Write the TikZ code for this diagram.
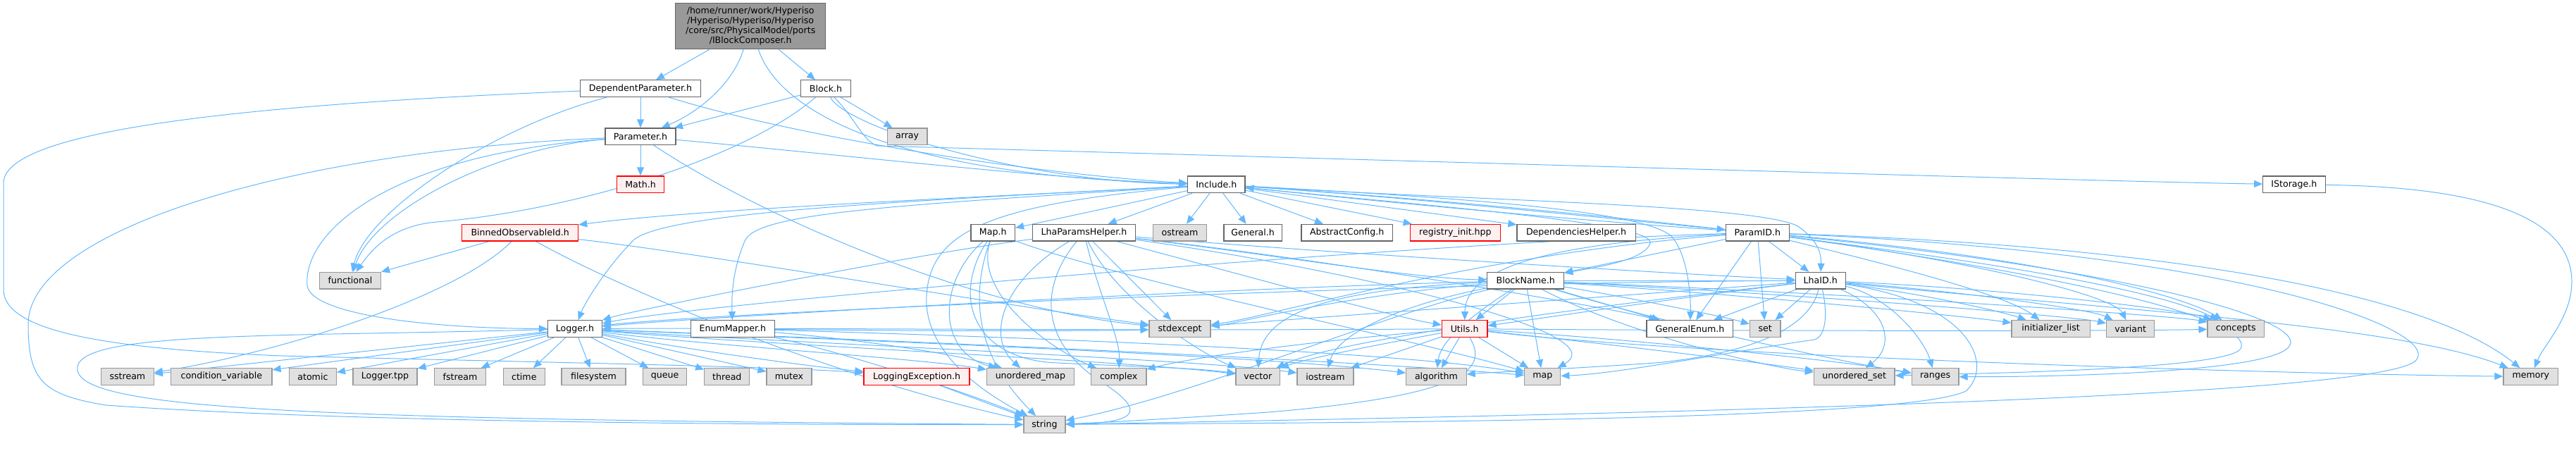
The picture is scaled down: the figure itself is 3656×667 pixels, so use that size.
\documentclass[tikz,border=0pt]{standalone}
\usepackage{fontspec}
\setmainfont{DejaVu Sans}
\usetikzlibrary{arrows.meta}
\definecolor{eb}{HTML}{63B8FF}
\definecolor{gb}{HTML}{999999}
\definecolor{gf}{HTML}{E0E0E0}
\definecolor{wb}{HTML}{666666}
\definecolor{rf}{HTML}{FFF0F0}
\pgfdeclarelayer{edges}
\pgfsetlayers{edges,main}
\newcommand{\mynode}[6]{\node[#5,minimum width=#4pt] (#1) at (#2,#3) {#6};}
\begin{document}
\begin{tikzpicture}[x=0.5pt,y=-0.5pt,
  box/.style={draw=wb,fill=white,line width=0.6pt,inner sep=0pt,minimum height=11.85pt,font=\fontsize{6.3}{6.9}\selectfont},
  sys/.style={box,draw=gb,fill=gf},
  redbox/.style={box,draw=red,fill=rf},
  edg/.style={draw=eb,line width=0.5pt,-{Triangle[length=6pt,width=5pt]}}]
\useasboundingbox (0,0) rectangle (3656,667);
% rows: 37.2 125.7 193.8 261.8 330.2 398.2 466.6 534.6 602.6
\node[box,fill=gb,draw=wb,minimum width=106.6pt,minimum height=32.5pt,align=center] (main) at (1065.2,37.2)
 {/home/runner/work/Hyperiso\\/Hyperiso/Hyperiso/Hyperiso\\/core/src/PhysicalModel/ports\\/IBlockComposer.h};
\mynode{dp}{909}{125.7}{85.2}{box}{DependentParameter.h}
\mynode{blk}{1172}{125.7}{35.4}{box}{Block.h}
\mynode{par}{909}{193.8}{50}{box}{Parameter.h}
\mynode{arr}{1287.6}{193.8}{28.3}{sys}{array}
\mynode{math}{909}{261.8}{33.4}{redbox}{Math.h}
\mynode{inc}{1726.3}{261.8}{40.7}{box}{Include.h}
\mynode{ist}{3255.9}{261.8}{44.2}{box}{IStorage.h}
\mynode{bin}{738.2}{330.2}{82.4}{redbox}{BinnedObservableId.h}
\mynode{mapH}{1409.2}{330.2}{31.3}{box}{Map.h}
\mynode{lph}{1538.5}{330.2}{73.2}{box}{LhaParamsHelper.h}
\mynode{ost}{1674.5}{330.2}{38}{sys}{ostream}
\mynode{gen}{1778.1}{330.2}{41.1}{box}{General.h}
\mynode{abs}{1911.7}{330.2}{64.7}{box}{AbstractConfig.h}
\mynode{reg}{2065.4}{330.2}{64}{redbox}{registry\_init.hpp}
\mynode{dep}{2237.1}{330.2}{84.1}{box}{DependenciesHelper.h}
\mynode{pid}{2494.3}{330.2}{44.9}{box}{ParamID.h}
\mynode{fun}{497}{398.2}{43.5}{sys}{functional}
\mynode{bn}{2165.2}{398.2}{54.4}{box}{BlockName.h}
\mynode{lid}{2583.7}{398.2}{35.4}{box}{LhaID.h}
\mynode{log}{815.9}{466.6}{38.4}{box}{Logger.h}
\mynode{enm}{1039.9}{466.6}{59.5}{box}{EnumMapper.h}
\mynode{stx}{1674.5}{466.6}{43.5}{sys}{stdexcept}
\mynode{utl}{2078.6}{466.6}{32.3}{redbox}{Utils.h}
\mynode{ge}{2398.4}{466.6}{61.4}{box}{GeneralEnum.h}
\mynode{set}{2505.2}{466.6}{21.8}{sys}{set}
\mynode{il}{2910.6}{466.6}{55.6}{sys}{initializer\_list}
\mynode{var}{3023.7}{466.6}{34}{sys}{variant}
\mynode{con}{3173.2}{466.6}{40.2}{sys}{concepts}
\mynode{ss}{180.9}{534.6}{37.4}{sys}{sstream}
\mynode{cv}{314.4}{534.6}{71.6}{sys}{condition\_variable}
\mynode{atm}{443.9}{534.6}{33.5}{sys}{atomic}
\mynode{ltpp}{546.5}{534.6}{45.5}{sys}{Logger.tpp}
\mynode{fst}{653}{534.6}{36.8}{sys}{fstream}
\mynode{ct}{743.8}{534.6}{29.5}{sys}{ctime}
\mynode{fs}{842.5}{534.6}{45.5}{sys}{filesystem}
\mynode{que}{943.6}{534.6}{31.2}{sys}{queue}
\mynode{thr}{1031.8}{534.6}{32}{sys}{thread}
\mynode{mtx}{1120}{534.6}{32}{sys}{mutex}
\mynode{lex}{1301}{534.6}{75}{redbox}{LoggingException.h}
\mynode{um}{1462.4}{534.6}{61.9}{sys}{unordered\_map}
\mynode{cpx}{1587.7}{534.6}{39.3}{sys}{complex}
\mynode{vec}{1785.3}{534.6}{31.3}{sys}{vector}
\mynode{ios}{1881}{534.6}{40}{sys}{iostream}
\mynode{alg}{2038.4}{534.6}{42.7}{sys}{algorithm}
\mynode{mp}{2189.3}{534.6}{25.5}{sys}{map}
\mynode{us}{2631.7}{534.6}{57.3}{sys}{unordered\_set}
\mynode{rng}{2746.6}{534.6}{33.4}{sys}{ranges}
\mynode{mem}{3591.8}{534.6}{38.8}{sys}{memory}
\mynode{str}{1482.5}{602.6}{29.5}{sys}{string}

\begin{pgfonlayer}{edges}
% main
\draw[edg] (main) -- (dp);
\draw[edg] (main) .. controls (1040,120) and (990,160) .. (par);
\draw[edg] (main) .. controls (1110,170) and (1300,250) .. (inc);
\draw[edg] (main) -- (blk);
% DependentParameter
\draw[edg] (dp) -- (par);
\draw[edg] (dp) .. controls (700,180) and (520,300) .. (fun);
\draw[edg] (dp) .. controls (1150,200) and (1500,250) .. (inc);
\draw[edg] (dp) .. controls (300,150) and (5,190) .. (5,260) -- (5,411) .. controls (5,470) and (150,495) .. (400,505) .. controls (800,515) and (1100,520) .. (lex);
% Parameter
\draw[edg] (par) -- (math);
\draw[edg] (par) .. controls (1200,220) and (1500,255) .. (inc);
\draw[edg] (par) .. controls (700,210) and (530,300) .. (fun);
\draw[edg] (par) .. controls (550,220) and (430,330) .. (436,405) .. controls (440,445) and (600,466) .. (log);
\draw[edg] (par) .. controls (400,215) and (40,330) .. (40,460) .. controls (40,540) and (60,560) .. (150,575) .. controls (500,600) and (1100,603) .. (str);
\draw[edg] (par) .. controls (1100,320) and (1400,440) .. (stx);
% Block
\draw[edg] (blk) -- (par);
\draw[edg] (blk) -- (arr);
\draw[edg] (blk) .. controls (1200,180) and (1450,258) .. (inc);
\draw[edg] (blk) .. controls (1215,170) and (1225,200) .. (1245,207) .. controls (2000,228) and (3000,258) .. (ist);
\draw[edg] (blk) .. controls (1050,230) and (800,300) .. (620,315) .. controls (560,320) and (530,350) .. (fun);
\draw[edg] (ist) .. controls (3500,265) and (3650,300) .. (3650,400) .. controls (3650,450) and (3610,490) .. (mem);
% Include
\draw[edg] (inc) -- (mapH);
\draw[edg] (inc) -- (lph);
\draw[edg] (inc) -- (ost);
\draw[edg] (inc) -- (gen);
\draw[edg] (inc) -- (abs);
\draw[edg] (inc) -- (reg);
\draw[edg] (inc) -- (dep);
\draw[edg] (inc) .. controls (2000,280) and (2300,312) .. (pid);
\draw[edg] (inc) .. controls (2000,290) and (2350,315) .. (2342,345) .. controls (2335,370) and (2260,380) .. (bn);
\draw[edg] (inc) .. controls (2100,285) and (2480,290) .. (2550,320) .. controls (2580,340) and (2585,360) .. (lid);
\draw[edg] (inc) .. controls (2100,282) and (2330,300) .. (2372,335) .. controls (2395,360) and (2400,420) .. (ge);
\draw[edg] (inc) .. controls (1500,275) and (1000,295) .. (bin);
\draw[edg] (inc) .. controls (1300,285) and (950,300) .. (900,340) .. controls (860,380) and (830,430) .. (log);
\draw[edg] (inc) .. controls (1300,290) and (1080,300) .. (1058,340) .. controls (1040,380) and (1038,420) .. (enm);
\draw[edg] (inc) .. controls (1400,290) and (1320,330) .. (1315,420) .. controls (1310,510) and (1420,570) .. (str);
\draw[edg] (inc) .. controls (2300,300) and (3000,380) .. (con);
\draw[edg] (pid) .. controls (2200,310) and (1900,280) .. (inc);
% Map
\draw[edg] (mapH) .. controls (1330,400) and (1330,500) .. (um);
\draw[edg] (mapH) .. controls (1350,420) and (1380,510) .. (1500,515) .. controls (1600,520) and (1700,522) .. (vec);
\draw[edg] (mapH) .. controls (1600,400) and (2000,480) .. (mp);
\draw[edg] (mapH) .. controls (1370,440) and (1400,520) .. (str);
\draw[edg] (mapH) .. controls (1380,420) and (1500,500) .. (cpx);
% LhaParamsHelper
\draw[edg] (lph) .. controls (1300,360) and (900,440) .. (log);
\draw[edg] (lph) -- (stx);
\draw[edg] (lph) .. controls (1580,420) and (1700,500) .. (vec);
\draw[edg] (lph) .. controls (1480,400) and (1470,480) .. (1560,540) .. controls (1640,590) and (1600,600) .. (str);
\draw[edg] (lph) .. controls (1560,420) and (1590,480) .. (cpx);
\draw[edg] (lph) .. controls (1420,400) and (1400,480) .. (um);
\draw[edg] (lph) .. controls (1800,360) and (2000,395) .. (bn);
\draw[edg] (lph) .. controls (1900,360) and (2400,390) .. (lid);
\draw[edg] (lph) .. controls (1900,370) and (2300,440) .. (ge);
\draw[edg] (lph) .. controls (1800,400) and (1980,450) .. (utl);
\draw[edg] (lph) .. controls (1900,380) and (2300,470) .. (mp);
% EnumMapper
\draw[edg] (enm) .. controls (1200,480) and (1350,500) .. (um);
\draw[edg] (enm) .. controls (1500,480) and (2000,500) .. (mp);
\draw[edg] (enm) .. controls (1200,500) and (1380,560) .. (str);
\draw[edg] (enm) .. controls (1300,470) and (1550,470) .. (stx);
% Logger
\draw[edg] (log) -- (ss);
\draw[edg] (log) -- (cv);
\draw[edg] (log) -- (atm);
\draw[edg] (log) -- (ltpp);
\draw[edg] (log) -- (fst);
\draw[edg] (log) -- (ct);
\draw[edg] (log) -- (fs);
\draw[edg] (log) -- (que);
\draw[edg] (log) -- (thr);
\draw[edg] (log) -- (mtx);
\draw[edg] (log) .. controls (1000,500) and (1150,520) .. (lex);
\draw[edg] (log) .. controls (1000,490) and (1300,508) .. (um);
\draw[edg] (log) .. controls (1100,490) and (1600,512) .. (vec);
\draw[edg] (log) .. controls (1100,485) and (1700,510) .. (ios);
\draw[edg] (log) .. controls (1200,480) and (1900,510) .. (mp);
\draw[edg] (log) .. controls (1200,482) and (1800,505) .. (alg);
\draw[edg] (log) .. controls (400,478) and (120,470) .. (110,520) .. controls (100,580) and (400,595) .. (str);
% BinnedObservableId
\draw[edg] (bin) -- (fun);
\draw[edg] (bin) .. controls (650,420) and (400,500) .. (ss);
\draw[edg] (bin) .. controls (900,420) and (1200,540) .. (str);
\draw[edg] (bin) .. controls (1000,360) and (1400,430) .. (stx);
% BlockName
\draw[edg] (bn) -- (utl);
\draw[edg] (bn) -- (ge);
\draw[edg] (bn) .. controls (2300,420) and (2450,450) .. (set);
\draw[edg] (bn) -- (mp);
\draw[edg] (bn) .. controls (2100,440) and (2045,480) .. (alg);
\draw[edg] (bn) .. controls (2000,430) and (1900,470) .. (ios);
\draw[edg] (bn) .. controls (1900,410) and (1790,440) .. (vec);
\draw[edg] (bn) -- (lid);
\draw[edg] (bn) .. controls (1700,410) and (1000,450) .. (log);
\draw[edg] (bn) .. controls (1900,420) and (1750,460) .. (stx);
\draw[edg] (bn) .. controls (2300,470) and (2500,520) .. (us);
\draw[edg] (bn) .. controls (2400,470) and (2650,520) .. (rng);
\draw[edg] (bn) .. controls (2500,420) and (2800,450) .. (il);
\draw[edg] (bn) .. controls (2600,420) and (2950,450) .. (var);
\draw[edg] (bn) .. controls (2700,420) and (3100,450) .. (con);
\draw[edg] (bn) .. controls (1950,450) and (1700,560) .. (str);
% Utils
\draw[edg] (utl) -- (alg);
\draw[edg] (utl) -- (mp);
\draw[edg] (utl) -- (ios);
\draw[edg] (utl) .. controls (1950,490) and (1850,510) .. (vec);
\draw[edg] (utl) .. controls (2110,520) and (2095,560) .. (1800,585) .. controls (1650,595) and (1560,600) .. (str);
\draw[edg] (utl) .. controls (2400,505) and (3200,530) .. (mem);
\draw[edg] (utl) .. controls (1900,480) and (1700,505) .. (cpx);
\draw[edg] (utl) .. controls (2300,480) and (2600,510) .. (rng);
\draw[edg] (utl) .. controls (2300,490) and (2500,515) .. (us);
\draw[edg] (utl) .. controls (2500,470) and (3000,470) .. (con);
\draw[edg] (utl) .. controls (1600,470) and (1100,465) .. (log);
% LhaID
\draw[edg] (lid) -- (ge);
\draw[edg] (lid) -- (set);
\draw[edg] (lid) .. controls (2400,420) and (2200,450) .. (utl);
\draw[edg] (lid) .. controls (2680,440) and (2690,490) .. (us);
\draw[edg] (lid) .. controls (2680,420) and (2730,480) .. (rng);
\draw[edg] (lid) .. controls (2750,420) and (2850,445) .. (il);
\draw[edg] (lid) .. controls (2800,415) and (2970,440) .. (var);
\draw[edg] (lid) .. controls (2850,410) and (3100,440) .. (con);
\draw[edg] (lid) .. controls (2800,430) and (2830,520) .. (2790,555) .. controls (2700,600) and (1800,600) .. (str);
\draw[edg] (lid) .. controls (2595,450) and (2590,478) .. (2575,482) .. controls (2450,500) and (2300,530) .. (mp);
\draw[edg] (lid) .. controls (2570,460) and (2500,500) .. (2350,515) .. controls (2200,525) and (2120,528) .. (alg);
\draw[edg] (lid) .. controls (2000,400) and (1000,445) .. (log);
\draw[edg] (lid) .. controls (2300,420) and (1800,455) .. (stx);
\draw[edg] (lid) .. controls (3000,440) and (3400,460) .. (mem);
\draw[edg] (lid) .. controls (2300,430) and (1900,480) .. (vec);
% ParamID
\draw[edg] (pid) -- (lid);
\draw[edg] (pid) -- (set);
\draw[edg] (pid) -- (ge);
\draw[edg] (pid) -- (bn);
\draw[edg] (pid) .. controls (2200,345) and (2080,380) .. (utl);
\draw[edg] (pid) .. controls (2700,380) and (2850,420) .. (il);
\draw[edg] (pid) .. controls (2800,370) and (3000,420) .. (var);
\draw[edg] (pid) .. controls (2900,365) and (3100,420) .. (con);
\draw[edg] (pid) .. controls (3100,350) and (3450,420) .. (mem);
\draw[edg] (pid) .. controls (3200,360) and (3460,470) .. (3430,510) .. controls (3400,560) and (2500,585) .. (str);
\draw[edg] (pid) .. controls (3000,380) and (3270,450) .. (3250,490) .. controls (3230,530) and (2900,535) .. (rng);
\draw[edg] (pid) .. controls (3000,400) and (3200,460) .. (3180,495) .. controls (3160,525) and (2800,530) .. (us);
\draw[edg] (pid) .. controls (2000,345) and (1000,430) .. (log);
\draw[edg] (pid) .. controls (2100,360) and (1800,450) .. (stx);
% LoggingException
\draw[edg] (lex) -- (str);
\end{pgfonlayer}
\end{tikzpicture}
\end{document}
